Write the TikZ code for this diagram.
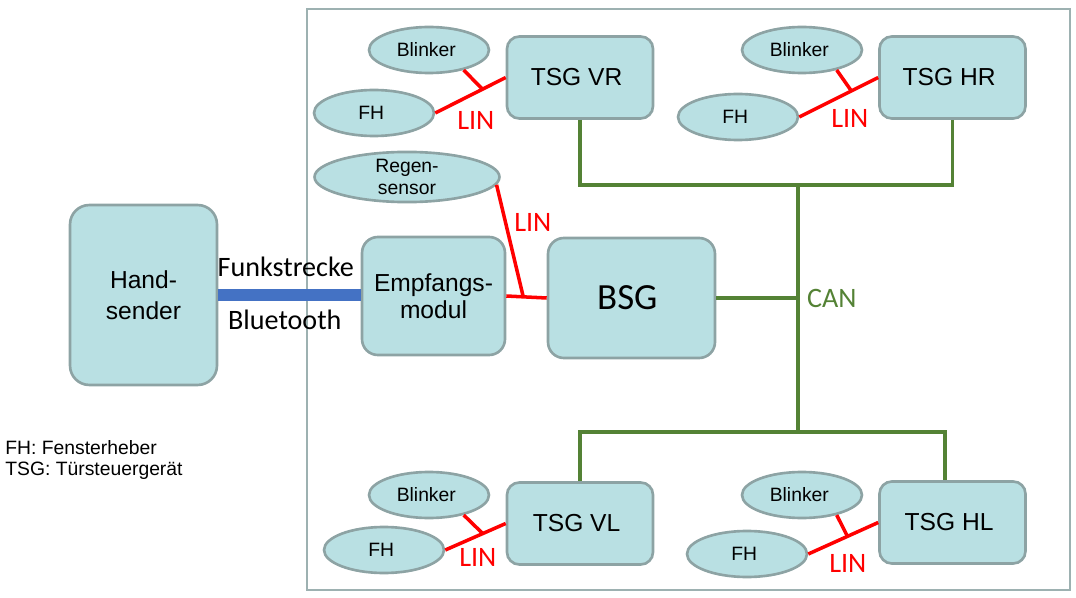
\documentclass[tikz,border=0pt]{standalone}
\usepackage{fontspec}
\setmainfont{Liberation Sans}
\newfontfamily\calibri{Carlito}
\usetikzlibrary{positioning, shapes.geometric}
\definecolor{boxfill}{HTML}{B9E0E3}
\definecolor{boxline}{HTML}{8DA3A4}
\definecolor{frameline}{HTML}{9DB1B1}
\definecolor{linred}{HTML}{FF0000}
\definecolor{cangreen}{HTML}{548235}
\definecolor{btblue}{HTML}{4472C4}

\begin{document}
\begin{tikzpicture}[x = 0.02cm, y = -0.02cm,
    every node/.style = { align = center, inner sep = 0pt },
    ecu/.style = { draw = boxline, fill = boxfill, line width = 1.5pt, shape = rectangle, rounded corners = 7pt,
                   minimum width = 2.92cm, minimum height = 1.64cm, font = \fontsize{14}{16}\selectfont },
    sensor/.style = { draw = boxline, fill = boxfill, line width = 1.5pt, shape = ellipse,
                      minimum width = 2.4cm, minimum height = 0.92cm, font = \fontsize{11}{12.5}\selectfont },
    lin/.style = { draw = linred, line width = 2pt },
    can/.style = { draw = cangreen, line width = 2pt },
    linlabel/.style = { text = linred, font = \calibri\fontsize{16}{18}\selectfont },
    canlabel/.style = { text = cangreen, font = \calibri\fontsize{16}{18}\selectfont }]
    \useasboundingbox (0,0) rectangle (1076,598);
    % vehicle frame
    \draw [frameline, line width = 1.5pt] (307,9) rectangle (1070,590);

    % control units
    \node [ecu, rounded corners = 11pt, minimum width = 2.94cm, minimum height = 3.6cm,
           font = \fontsize{14}{17.6}\selectfont] (hand) at (143.5,295) { Hand-\\sender };
    \node [ecu, rounded corners = 9pt, minimum width = 2.86cm, minimum height = 2.36cm,
           font = \fontsize{14}{15.6}\selectfont] (empf) at (433.5,296) { Empfangs-\\modul };
    \node [ecu, rounded corners = 9pt, minimum width = 3.34cm, minimum height = 2.4cm,
           font = \calibri\fontsize{21}{24}\selectfont] (bsg) at (631.5,298) { BSG };
    \node [ecu] (tsgvr) at (580,77.5) { TSG VR };
    \node [ecu] (tsghr) at (952.5,77.5) { TSG HR };
    \node [ecu] (tsgvl) at (580,523.5) { TSG VL };
    \node [ecu] (tsghl) at (952.5,522.5) { TSG HL };

    % sensors and actuators
    \node [sensor] (blvr) at (429,50) { Blinker };
    \node [sensor] (fhvr) at (374,113) { FH };
    \node [sensor, minimum width = 3.7cm] (regen) at (407,177) { Regen-\\sensor };
    \node [sensor] (blhr) at (802,50) { Blinker };
    \node [sensor] (fhhr) at (738,117) { FH };
    \node [sensor] (blvl) at (429,495) { Blinker };
    \node [sensor] (fhvl) at (384,550) { FH };
    \node [sensor] (blhl) at (802,495) { Blinker };
    \node [sensor] (fhhl) at (747,554) { FH };

    % radio link
    \draw [btblue, line width = 6.8pt] (hand.east) -- (hand.east -| empf.west);
    \node [font = \calibri\fontsize{16}{18}\selectfont] (funk) at (289,267) { Funkstrecke };
    \node [font = \calibri\fontsize{16}{18}\selectfont] (bt) at (288,320) { Bluetooth };

    % LIN
    \draw [lin] (fhvr.east) -- coordinate [pos = 0.67] (tvr) (tsgvr.west);
    \draw [lin] (blvr.-30) -- (tvr);
    \draw [lin] (fhhr.east) -- coordinate [pos = 0.66] (thr) (tsghr.west);
    \draw [lin] (blhr.-30) -- (thr);
    \draw [lin] (fhvl.east) -- coordinate [pos = 0.62] (tvl) (tsgvl.west);
    \draw [lin] (blvl.-30) -- (tvl);
    \draw [lin] (fhhl.east) -- coordinate [pos = 0.56] (thl) (tsghl.west);
    \draw [lin] (blhl.-30) -- (thl);
    \draw [lin] (empf.east) -- coordinate [pos = 0.42] (tbsg) (bsg.west);
    \draw [lin] (regen.-5) -- (tbsg);
    \node [linlabel] (linvr) at (479,120) { LIN };
    \node [linlabel] (linhr) at (853,118) { LIN };
    \node [linlabel] (linvl) at (481,557) { LIN };
    \node [linlabel] (linhl) at (851,563) { LIN };
    \node [linlabel] (linbsg) at (536,222) { LIN };

    % CAN
    \coordinate (cann) at (798,185);
    \coordinate (cans) at (798,432);
    \draw [can] (tsgvr.south) |- (cann) -| (tsghr.south);
    \draw [can] (cann) -- (cans);
    \draw [can] (bsg.east) -- (bsg.east -| cann);
    \draw [can] (tsgvl.north) |- (cans) -| (tsghl.100);
    \node [canlabel] (canl) at (835,298) { CAN };

    % legend
    \node [align = left, anchor = west, font = \fontsize{11}{12}\selectfont] (legend) at (5,460)
        { FH: Fensterheber\\TSG: Türsteuergerät };
\end{tikzpicture}
\end{document}
